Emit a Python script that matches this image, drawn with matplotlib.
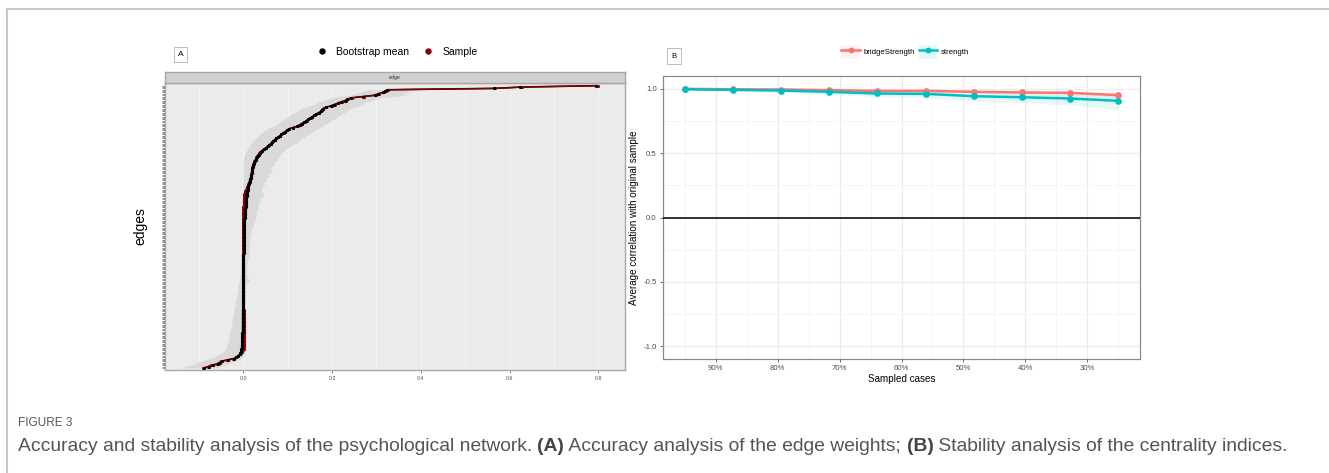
import numpy as np
import matplotlib
matplotlib.use("Agg")
import matplotlib.pyplot as plt
from matplotlib.lines import Line2D
from matplotlib.patches import Patch
from matplotlib.text import Annotation

W, H = 1329, 473
DPI = 100

# =======================
# Panel A: edge weights, ordered by bootstrap mean (strongest on top)
# =======================
edge_sample = [
    0.800, 0.629, 0.568, 0.327, 0.321, 0.318, 0.306, 0.300, 0.272, 0.245,
    0.236, 0.231, 0.222, 0.214, 0.206, 0.199, 0.186, 0.179, 0.178, 0.176,
    0.170, 0.165, 0.161, 0.156, 0.152, 0.147, 0.143, 0.139, 0.133, 0.127,
    0.123, 0.112, 0.103, 0.099, 0.095, 0.091, 0.086, 0.083, 0.079, 0.075,
    0.071, 0.068, 0.065, 0.062, 0.058, 0.055, 0.051, 0.046, 0.042, 0.039,
    0.036, 0.034, 0.032, 0.030, 0.029, 0.027, 0.025, 0.024, 0.023, 0.022,
    0.021, 0.021, 0.020, 0.020, 0.019, 0.019, 0.018, 0.018, 0.017, 0.016,
    0.015, 0.014, 0.013, 0.012, 0.011, 0.009, 0.008, 0.006, 0.005, 0.004,
    0.003, 0.003, 0.002, 0.002, 0.002, 0.001, 0.001, 0.001, 0.001, 0.001,
    0.000, 0.000, 0.000, 0.000, 0.000, 0.000, 0.000, 0.000, 0.000, 0.000,
    0.000, 0.000, 0.000, 0.000, 0.000, 0.000, 0.000, 0.000, 0.000, 0.000,
    0.000, 0.000, 0.000, 0.000, 0.000, 0.000, 0.000, 0.000, 0.000, 0.000,
    0.000, 0.000, 0.000, 0.000, 0.000, 0.000, 0.000, 0.000, 0.000, 0.000,
    0.000, 0.000, 0.000, 0.000, 0.000, 0.000, 0.000, 0.000, 0.000, 0.000,
    0.000, 0.000, 0.000, 0.000, 0.000, 0.000, 0.000, 0.000, 0.000, 0.000,
    0.000, 0.000, 0.000, 0.000, 0.000, 0.000, 0.000, 0.000, 0.000, 0.000,
    0.000, 0.000, 0.000, 0.000, 0.000, 0.000, 0.001, 0.001, 0.001, 0.001,
    0.002, 0.002, 0.002, 0.003, 0.002, 0.003, 0.002, 0.003, 0.003, 0.002,
    0.003, 0.002, 0.003, 0.003, 0.002, 0.003, 0.002, 0.003, 0.002, 0.002,
    0.003, 0.002, 0.002, 0.002, 0.001, 0.001, 0.000, -0.002, -0.005, -0.008,
    -0.012, -0.016, -0.022, -0.036, -0.050, -0.055, -0.060, -0.072, -0.080, -0.090,
]
edge_mean = [
    0.795, 0.624, 0.565, 0.325, 0.320, 0.315, 0.304, 0.298, 0.270, 0.244,
    0.235, 0.230, 0.221, 0.213, 0.205, 0.197, 0.186, 0.180, 0.177, 0.175,
    0.170, 0.165, 0.160, 0.156, 0.151, 0.147, 0.142, 0.138, 0.132, 0.127,
    0.122, 0.112, 0.103, 0.099, 0.095, 0.090, 0.086, 0.083, 0.079, 0.075,
    0.071, 0.068, 0.065, 0.062, 0.058, 0.055, 0.051, 0.047, 0.043, 0.040,
    0.037, 0.035, 0.033, 0.031, 0.030, 0.028, 0.026, 0.025, 0.024, 0.023,
    0.022, 0.021, 0.020, 0.020, 0.019, 0.019, 0.018, 0.018, 0.017, 0.016,
    0.016, 0.015, 0.014, 0.013, 0.012, 0.011, 0.010, 0.010, 0.009, 0.009,
    0.008, 0.008, 0.008, 0.007, 0.007, 0.007, 0.007, 0.006, 0.006, 0.006,
    0.006, 0.005, 0.005, 0.005, 0.005, 0.004, 0.004, 0.004, 0.004, 0.003,
    0.003, 0.003, 0.003, 0.003, 0.002, 0.002, 0.002, 0.002, 0.002, 0.002,
    0.002, 0.001, 0.001, 0.001, 0.001, 0.001, 0.001, 0.001, 0.001, 0.001,
    0.001, 0.001, 0.001, 0.001, 0.001, 0.000, 0.000, 0.000, 0.000, 0.000,
    0.000, 0.000, 0.000, 0.000, 0.000, 0.000, 0.000, 0.000, 0.000, 0.000,
    0.000, 0.000, 0.000, 0.000, 0.000, 0.000, 0.000, 0.000, 0.000, 0.000,
    0.000, 0.000, 0.000, 0.000, 0.000, 0.000, 0.000, 0.000, 0.000, 0.000,
    0.000, 0.000, 0.000, 0.000, 0.000, 0.000, -0.001, -0.001, -0.001, -0.001,
    -0.001, -0.001, -0.001, -0.001, -0.001, -0.001, -0.001, -0.001, -0.001, -0.001,
    -0.001, -0.001, -0.001, -0.002, -0.002, -0.002, -0.002, -0.002, -0.002, -0.002,
    -0.002, -0.002, -0.003, -0.003, -0.003, -0.004, -0.004, -0.005, -0.006, -0.008,
    -0.011, -0.015, -0.020, -0.033, -0.047, -0.053, -0.057, -0.069, -0.078, -0.088,
]
edge_upper = [
    0.820, 0.660, 0.600, 0.370, 0.370, 0.380, 0.360, 0.370, 0.340, 0.310,
    0.300, 0.290, 0.280, 0.270, 0.270, 0.260, 0.250, 0.240, 0.240, 0.230,
    0.230, 0.220, 0.220, 0.210, 0.210, 0.200, 0.200, 0.190, 0.190, 0.180,
    0.180, 0.170, 0.170, 0.160, 0.160, 0.150, 0.150, 0.140, 0.140, 0.130,
    0.130, 0.125, 0.120, 0.115, 0.110, 0.105, 0.100, 0.095, 0.095, 0.090,
    0.085, 0.085, 0.080, 0.083, 0.075, 0.078, 0.070, 0.072, 0.068, 0.070,
    0.065, 0.062, 0.066, 0.060, 0.067, 0.058, 0.055, 0.060, 0.052, 0.050,
    0.054, 0.048, 0.046, 0.050, 0.044, 0.045, 0.042, 0.044, 0.040, 0.046,
    0.043, 0.048, 0.045, 0.041, 0.038, 0.040, 0.036, 0.034, 0.037, 0.033,
    0.032, 0.034, 0.031, 0.030, 0.028, 0.032, 0.029, 0.027, 0.030, 0.028,
    0.026, 0.025, 0.022, 0.024, 0.020, 0.021, 0.018, 0.020, 0.017, 0.019,
    0.016, 0.015, 0.017, 0.014, 0.016, 0.015, 0.013, 0.015, 0.014, 0.016,
    0.013, 0.014, 0.012, 0.015, 0.013, 0.011, 0.014, 0.012, 0.010, 0.011,
    0.009, 0.010, 0.008, 0.009, 0.008, 0.007, 0.009, 0.008, 0.007, 0.006,
    0.008, 0.007, 0.009, 0.012, 0.015, 0.013, 0.008, 0.006, 0.007, 0.005,
    0.006, 0.005, 0.006, 0.005, 0.004, 0.005, 0.004, 0.005, 0.004, 0.004,
    0.005, 0.004, 0.005, 0.004, 0.004, 0.005, 0.004, 0.005, 0.006, 0.006,
    0.007, 0.006, 0.007, 0.008, 0.007, 0.008, 0.007, 0.008, 0.008, 0.007,
    0.008, 0.007, 0.008, 0.008, 0.007, 0.008, 0.007, 0.008, 0.007, 0.007,
    0.008, 0.007, 0.007, 0.006, 0.006, 0.005, 0.005, 0.004, 0.003, 0.002,
    0.001, 0.000, -0.004, -0.010, -0.020, -0.028, -0.032, -0.040, -0.050, -0.060,
]
edge_lower = [
    0.780, 0.600, 0.540, 0.280, 0.270, 0.260, 0.250, 0.240, 0.220, 0.200,
    0.190, 0.180, 0.170, 0.165, 0.160, 0.150, 0.140, 0.130, 0.125, 0.120,
    0.115, 0.110, 0.105, 0.100, 0.095, 0.090, 0.085, 0.080, 0.078, 0.072,
    0.068, 0.060, 0.055, 0.048, 0.045, 0.042, 0.038, 0.035, 0.030, 0.028,
    0.025, 0.022, 0.020, 0.018, 0.015, 0.013, 0.011, 0.009, 0.008, 0.006,
    0.005, 0.004, 0.003, 0.002, 0.002, 0.001, 0.001, 0.000, 0.000, 0.000,
    0.000, 0.000, 0.000, 0.000, 0.000, 0.000, 0.000, 0.000, 0.000, 0.000,
    0.000, 0.000, 0.000, 0.000, 0.000, 0.000, 0.000, 0.000, 0.000, 0.000,
    0.000, 0.000, 0.000, -0.001, -0.001, 0.000, -0.001, -0.001, -0.002, -0.001,
    -0.002, -0.001, -0.002, -0.002, -0.001, -0.002, -0.002, -0.002, -0.003, -0.002,
    -0.002, -0.003, -0.002, -0.003, -0.003, -0.002, -0.003, -0.003, -0.002, -0.003,
    -0.003, -0.003, -0.004, -0.003, -0.003, -0.004, -0.003, -0.004, -0.004, -0.003,
    -0.004, -0.004, -0.003, -0.004, -0.004, -0.005, -0.004, -0.004, -0.005, -0.004,
    -0.005, -0.004, -0.005, -0.005, -0.006, -0.005, -0.006, -0.006, -0.007, -0.006,
    -0.007, -0.008, -0.007, -0.009, -0.008, -0.010, -0.009, -0.011, -0.010, -0.012,
    -0.011, -0.013, -0.012, -0.014, -0.013, -0.015, -0.014, -0.016, -0.015, -0.017,
    -0.016, -0.018, -0.017, -0.019, -0.020, -0.019, -0.021, -0.020, -0.022, -0.021,
    -0.023, -0.022, -0.024, -0.025, -0.024, -0.026, -0.025, -0.027, -0.026, -0.028,
    -0.027, -0.029, -0.028, -0.030, -0.031, -0.030, -0.032, -0.031, -0.033, -0.034,
    -0.033, -0.035, -0.036, -0.038, -0.037, -0.040, -0.042, -0.045, -0.050, -0.055,
    -0.060, -0.068, -0.075, -0.085, -0.095, -0.105, -0.110, -0.120, -0.130, -0.140,
]
N_EDGES = len(edge_mean)
assert len(edge_sample) == N_EDGES and len(edge_upper) == N_EDGES and len(edge_lower) == N_EDGES

edge_ticks = [0.0, 0.2, 0.4, 0.6, 0.8]

# =======================
# Panel B: case-dropping stability
# =======================
sampled_pct = [95.0, 87.2, 79.4, 71.7, 63.9, 56.1, 48.3, 40.6, 32.8, 25.0]
bridge_cor = [1.000, 0.997, 0.995, 0.990, 0.984, 0.984, 0.977, 0.972, 0.969, 0.951]
bridge_lo = [0.998, 0.993, 0.990, 0.983, 0.975, 0.972, 0.962, 0.955, 0.948, 0.920]
bridge_hi = [1.000, 1.000, 0.999, 0.997, 0.994, 0.993, 0.990, 0.988, 0.986, 0.975]
strength_cor = [0.997, 0.992, 0.987, 0.977, 0.964, 0.961, 0.943, 0.935, 0.925, 0.907]
strength_lo = [0.994, 0.984, 0.975, 0.957, 0.940, 0.930, 0.905, 0.893, 0.875, 0.840]
strength_hi = [0.999, 0.997, 0.995, 0.990, 0.984, 0.983, 0.973, 0.968, 0.962, 0.950]
pct_ticks = [90, 80, 70, 60, 50, 40, 30]
cor_ticks = [1.0, 0.5, 0.0, -0.5, -1.0]

RED = "#F8766D"
TEAL = "#00BFC4"
DARKRED = "#8B0000"

plt.rcParams['font.family'] = ['Liberation Sans', 'DejaVu Sans']

fig = plt.figure(figsize=(W / DPI, H / DPI), dpi=DPI)


def px_axes(l, t, r, b):
    # axes from pixel box (left, top, right, bottom)
    return fig.add_axes([l / W, 1 - b / H, (r - l) / W, (b - t) / H])


# page frame lines
fig.add_artist(Line2D([7 / W, 7 / W], [0, 1 - 9 / H], transform=fig.transFigure,
                      color="#c8c8c8", lw=1.5))
fig.add_artist(Line2D([7 / W, 1], [1 - 9 / H, 1 - 9 / H], transform=fig.transFigure,
                      color="#c8c8c8", lw=1.5))

# ---------- Panel A ----------
axA = px_axes(165, 83, 625, 370)
ypos = np.arange(N_EDGES)[::-1]
axA.set_facecolor("#ebebeb")
axA.fill_betweenx(ypos, edge_lower, edge_upper, color="#d9d9d9", lw=0, zorder=2)
axA.plot(edge_mean, ypos, color="black", lw=1.2, zorder=3)
axA.plot(edge_sample, ypos, color=DARKRED, lw=1.0, zorder=4)
axA.plot(edge_sample, ypos, "o", color=DARKRED, ms=1.2, zorder=5)
axA.plot(edge_mean, ypos, "o", color="black", ms=1.3, zorder=6)
axA.set_xlim(-0.176, 0.86)
axA.set_ylim(-1.5, N_EDGES + 1)
axA.set_xticks(edge_ticks)
axA.set_xticklabels([f"{t:.1f}" for t in edge_ticks])
axA.set_xticks(np.arange(-0.1, 0.9, 0.2), minor=True)
axA.grid(True, axis="x", which="both", color="#f3f3f3", lw=0.8, zorder=1)
axA.set_axisbelow(True)
axA.set_yticks(ypos)
axA.set_yticklabels([])
axA.tick_params(axis="y", length=2.5, width=0.6, color="#777777")
axA.tick_params(axis="x", which="major", length=2, width=0.6, color="#777777",
                labelsize=3.8, labelcolor="#4d4d4d", pad=2)
axA.tick_params(axis="x", which="minor", length=0)
for s in axA.spines.values():
    s.set_color("#a8a8a8")
    s.set_linewidth(1.0)
axA.set_ylabel("edges", fontsize=10, labelpad=7)

stripA = px_axes(165, 72, 625, 83)
stripA.set_facecolor("#d0d0d0")
stripA.set_xticks([])
stripA.set_yticks([])
for s in stripA.spines.values():
    s.set_color("#a8a8a8")
    s.set_linewidth(1.0)
stripA.text(0.5, 0.5, "edge", fontsize=3.8, color="#333333", ha="center", va="center",
            transform=stripA.transAxes)

fig.text(180.5 / W, 1 - 54.5 / H, "A", fontsize=6, ha="center", va="center",
         bbox=dict(boxstyle="square,pad=0.45", fc="white", ec="#bbbbbb", lw=0.7))

legA = fig.legend(
    handles=[Line2D([], [], ls="", marker="o", color="black", ms=3.6),
             Line2D([], [], ls="", marker="o", color=DARKRED, ms=3.6)],
    labels=["Bootstrap mean", "Sample"], ncol=2, frameon=False, fontsize=7.5,
    loc="center", bbox_to_anchor=(397 / W, 1 - 52 / H),
    handlelength=1.0, handletextpad=0.9, columnspacing=1.3)

# ---------- Panel B ----------
axB = px_axes(663, 76, 1140, 359)
axB.fill_between(sampled_pct, bridge_lo, bridge_hi, color=RED, alpha=0.1, lw=0, zorder=2)
axB.fill_between(sampled_pct, strength_lo, strength_hi, color=TEAL, alpha=0.1, lw=0, zorder=2)
axB.plot(sampled_pct, bridge_cor, "-o", color=RED, lw=1.8, ms=3.8, zorder=4)
axB.plot(sampled_pct, strength_cor, "-o", color=TEAL, lw=1.8, ms=3.8, zorder=4)
axB.axhline(0, color="black", lw=1.1, zorder=3)
axB.set_xlim(98.5, 21.5)
axB.set_ylim(-1.1, 1.1)
axB.set_xticks(pct_ticks)
axB.set_xticklabels([f"{t}%" for t in pct_ticks])
axB.set_xticks([95, 85, 75, 65, 55, 45, 35, 25], minor=True)
axB.set_yticks(cor_ticks)
axB.set_yticklabels([f"{t:.1f}" for t in cor_ticks])
axB.set_yticks([0.75, 0.25, -0.25, -0.75], minor=True)
axB.grid(True, which="major", color="#ebebeb", lw=0.9, zorder=0)
axB.grid(True, which="minor", color="#f4f4f4", lw=0.6, zorder=0)
axB.set_axisbelow(True)
axB.tick_params(which="major", length=2.5, width=0.6, color="#555555",
                labelsize=5.6, labelcolor="#4d4d4d", pad=2)
axB.tick_params(which="minor", length=0)
for s in axB.spines.values():
    s.set_color("#8a8a8a")
    s.set_linewidth(0.9)
axB.set_xlabel("Sampled cases", fontsize=7.1, labelpad=1.5)
axB.set_ylabel("Average correlation with original sample", fontsize=7.1, labelpad=3)

fig.text(674 / W, 1 - 56 / H, "B", fontsize=5.5, ha="center", va="center",
         bbox=dict(boxstyle="square,pad=0.55", fc="white", ec="#bbbbbb", lw=0.7))

legB = fig.legend(
    handles=[(Patch(facecolor=RED, alpha=0.1, lw=0), Line2D([], [], color=RED, lw=1.8, marker="o", ms=3.2)),
             (Patch(facecolor=TEAL, alpha=0.1, lw=0), Line2D([], [], color=TEAL, lw=1.8, marker="o", ms=3.2))],
    labels=["bridgeStrength", "strength"], ncol=2, frameon=False, fontsize=5.6,
    loc="center", bbox_to_anchor=(905 / W, 1 - 52 / H),
    handlelength=2.4, handleheight=2.2, handletextpad=0.4, columnspacing=0.5)

# ---------- Caption ----------
fig.text(18 / W, 1 - 423 / H, "FIGURE 3", fontsize=8.5, color="#555555", va="center")

CAP_SIZE = 13.9
cap_parts = [
    ("Accuracy and stability analysis of the psychological network. ", "normal"),
    ("(A)", "bold"),
    (" Accuracy analysis of the edge weights; ", "normal"),
    ("(B)", "bold"),
    (" Stability analysis of the centrality indices.", "normal"),
]
prev = fig.text(18 / W, 1 - 446 / H, cap_parts[0][0], fontsize=CAP_SIZE, color="#555555",
                va="center", fontweight=cap_parts[0][1])
for txt, wt in cap_parts[1:]:
    prev = fig.add_artist(
        Annotation(txt, xy=(1, 0), xycoords=prev, va="bottom", ha="left",
                   fontsize=CAP_SIZE, color="#444444" if wt == "bold" else "#555555",
                   fontweight=wt))

fig.savefig("out.png", dpi=DPI)
